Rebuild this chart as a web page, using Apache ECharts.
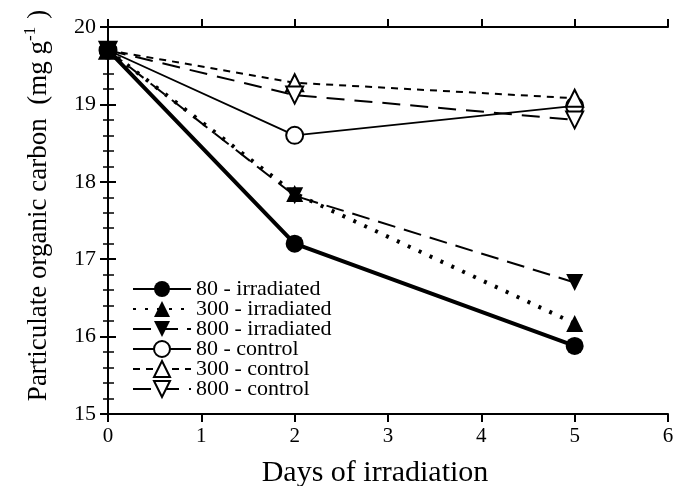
<!DOCTYPE html>
<html>
<head>
<meta charset="utf-8">
<script src="https://cdn.jsdelivr.net/npm/echarts@6/dist/echarts.min.js"></script>
<style>
  html, body { margin: 0; padding: 0; background: #fff; }
  #chart { width: 673px; height: 486px; }
</style>
</head>
<body>
<div id="chart"></div>
<script>
const days = [0, 2, 5];
const irr80 = [19.7, 17.2, 15.88];
const irr300 = [19.7, 17.85, 16.17];
const irr800 = [19.7, 17.82, 16.7];
const ctl80 = [19.7, 18.6, 18.98];
const ctl300 = [19.7, 19.28, 19.08];
const ctl800 = [19.7, 19.12, 18.8];
const xTicks = [0, 1, 2, 3, 4, 5, 6];
const yTicks = [15, 16, 17, 18, 19, 20];

const font = 'Liberation Serif';
const pts = (ys) => days.map((d, i) => [d, ys[i]]);

const chart = echarts.init(document.getElementById('chart'));

function mk(name, ys, symbol, size, lineWidth, lineType, filled, rotate) {
    return {
        name: name,
        type: 'line',
        data: pts(ys),
        symbol: symbol,
        symbolSize: size,
        symbolRotate: rotate || 0,
        showAllSymbol: true,
        lineStyle: { color: '#000', width: lineWidth, type: lineType },
        itemStyle: {
            color: filled ? '#000' : '#fff',
            borderColor: '#000',
            borderWidth: filled ? 0 : 2
        },
        z: filled ? 3 : 2
    };
}

const axisCommon = {
    axisLine: { show: true, lineStyle: { color: '#000', width: 2 } },
    axisTick: { show: true, inside: false, length: 8, lineStyle: { color: '#000', width: 2 } },
    splitLine: { show: false }
};

chart.setOption({
    animation: false,
    backgroundColor: '#fff',
    textStyle: { fontFamily: font, color: '#000' },
    grid: { left: 108, right: 5, top: 27, bottom: 72, containLabel: false, outerBoundsMode: 'none' },
    legend: {
        orient: 'vertical',
        left: 127,
        top: 273,
        itemWidth: 58,
        itemHeight: 20,
        itemGap: -2,
        textStyle: { fontFamily: font, fontSize: 22, color: '#000', lineHeight: 20 },
        data: ['80 - irradiated', '300 - irradiated', '800 - irradiated',
               '80 - control', '300 - control', '800 - control']
    },
    xAxis: [{
        type: 'value',
        min: 0, max: 6, interval: 1,
        position: 'bottom',
        name: 'Days of irradiation',
        nameLocation: 'middle',
        nameGap: 44,
        nameTextStyle: { fontFamily: font, fontSize: 30, color: '#000', padding: [0, 26, 0, 0] },
        axisLabel: {
            fontFamily: font, fontSize: 21, color: '#000', margin: 12,
            customValues: xTicks
        },
        ...axisCommon
    }, {
        type: 'value',
        min: 0, max: 6, interval: 1,
        position: 'top',
        axisLabel: { show: false },
        ...axisCommon
    }],
    yAxis: [{
        type: 'value',
        min: 15, max: 20, interval: 1,
        position: 'left',
        name: 'Particulate organic carbon  (mg g{sup|-1}{n|)}',
        nameLocation: 'middle',
        nameGap: 52,
        nameRotate: 90,
        nameTextStyle: {
            fontFamily: font, fontSize: 27, color: '#000', padding: [0, 0, 0, 30],
            rich: {
                sup: { fontFamily: font, fontSize: 17, verticalAlign: 'top', lineHeight: 34, padding: [0, 0, 16, 0] },
                n: { fontFamily: font, fontSize: 27, padding: [0, 0, 0, 8] }
            }
        },
        axisLabel: { fontFamily: font, fontSize: 22, color: '#000', margin: 12, customValues: yTicks },
        minorTick: { show: true, splitNumber: 5, length: 5, lineStyle: { color: '#000', width: 1.5 } },
        ...axisCommon
    }, {
        type: 'value',
        min: 15, max: 20, interval: 1,
        position: 'right',
        axisLabel: { show: false },
        minorTick: { show: true, splitNumber: 5, length: 6, lineStyle: { color: '#000', width: 1.5 } },
        ...axisCommon
    }],
    series: [
        mk('80 - irradiated', irr80, 'circle', 18, 4, 'solid', true),
        mk('300 - irradiated', irr300, 'triangle', 17, 4, [3, 9], true),
        mk('800 - irradiated', irr800, 'triangle', 17, 2, [18, 9], true, 180),
        mk('80 - control', ctl80, 'circle', 17, 1.8, 'solid', false),
        mk('300 - control', ctl300, 'triangle', 17, 2, [7, 6], false),
        mk('800 - control', ctl800, 'triangle', 17, 2, [18, 10], false, 180)
    ]
});
</script>
</body>
</html>
